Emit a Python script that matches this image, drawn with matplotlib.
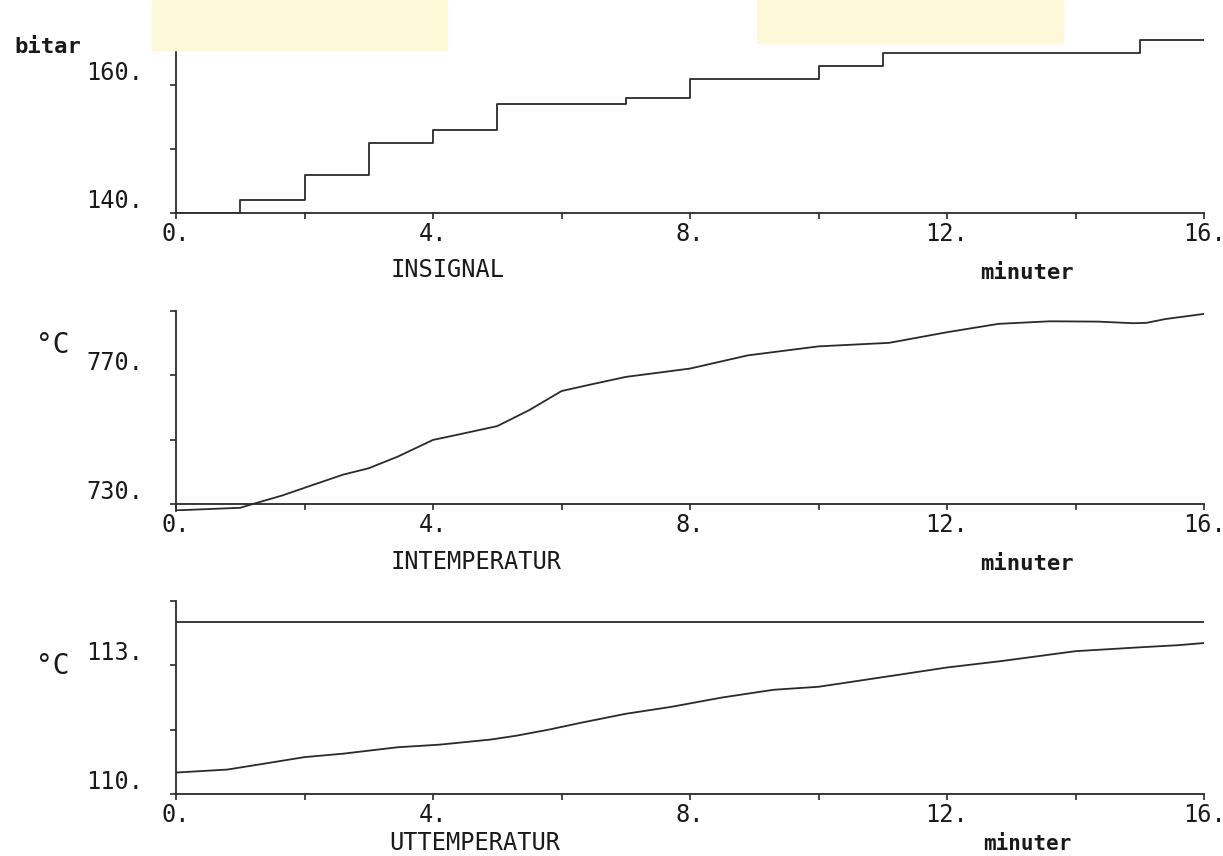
import matplotlib.pyplot as plt
from matplotlib.patches import Rectangle

plt.rcParams["font.family"] = ["DejaVu Sans Mono", "DejaVu Sans"]

# --- data ---
x_ticks = [0, 2, 4, 6, 8, 10, 12, 14, 16]
x_labels = ["0.", "", "4.", "", "8.", "", "12.", "", "16."]

# INSIGNAL (bitar), step signal
insignal_t = [0, 1, 2, 3, 4, 5, 7, 8, 10, 11, 15, 16]
insignal_v = [140, 142, 146, 151, 153, 157, 158, 161, 163, 165, 167, 167]

# INTEMPERATUR (deg C)
intemp_t = [0, 1.0, 1.2, 1.65, 2.1, 2.6, 3.0, 3.45, 4.0, 4.4, 5.0, 5.5, 6.0,
            6.4, 7.0, 8.0, 8.9, 10.0, 11.1, 12.0, 12.8, 13.6, 14.35, 14.9,
            15.1, 15.4, 16.0]
intemp_v = [728.0, 728.8, 730.0, 732.6, 735.7, 739.1, 741.1, 744.7, 749.9,
            751.6, 754.2, 759.2, 765.1, 766.9, 769.5, 772.1, 776.2, 779.0,
            780.1, 783.4, 786.0, 786.8, 786.7, 786.2, 786.3, 787.5, 789.1]

# UTTEMPERATUR (deg C) and its setpoint line
uttemp_t = [0, 0.8, 1.3, 2.0, 2.6, 3.45, 4.1, 4.9, 5.3, 5.8, 6.3, 7.0, 7.7,
            8.5, 9.3, 10.0, 11.25, 12.0, 12.85, 13.6, 14.0, 15.0, 15.6, 16.0]
uttemp_v = [110.5, 110.57, 110.69, 110.86, 110.94, 111.09, 111.15, 111.27,
            111.36, 111.5, 111.66, 111.87, 112.03, 112.25, 112.43, 112.5,
            112.78, 112.95, 113.1, 113.25, 113.33, 113.42, 113.47, 113.52]
uttemp_ref = 114.0

ink = "#2a2a2a"
W, H = 1223, 856


def px_box(left, top, right, bottom):
    return [left / W, 1 - bottom / H, (right - left) / W, (bottom - top) / H]


def style_axis(ax, ylim, yticks, ylabels, xaxis_at):
    ax.set_xlim(0, 16)
    ax.set_ylim(*ylim)
    ax.spines["top"].set_visible(False)
    ax.spines["right"].set_visible(False)
    ax.spines["bottom"].set_position(("data", xaxis_at))
    for s in ["left", "bottom"]:
        ax.spines[s].set_linewidth(1.3)
        ax.spines[s].set_color(ink)
    ax.set_xticks(x_ticks, x_labels)
    ax.set_yticks(yticks, ylabels)
    ax.tick_params(direction="out", length=4.5, width=1.2, color=ink,
                   labelcolor="#1a1a1a", labelsize=17)
    ax.tick_params(axis="x", pad=2)
    ax.tick_params(axis="y", pad=19)
    plt.setp(ax.get_yticklabels(), va="bottom")
    ax.patch.set_alpha(0)


fig = plt.figure(figsize=(W / 100, H / 100), dpi=100)

# faint yellow highlighter marks on the scan
hl = "#fdf9d8"
fig.patches.append(Rectangle((152 / W, 1 - 50 / H), 295 / W, 50 / H,
                             transform=fig.transFigure, color=hl, zorder=0))
fig.patches.append(Rectangle((757 / W, 1 - 43 / H), 306 / W, 43 / H,
                             transform=fig.transFigure, color=hl, zorder=0))

# INSIGNAL
ax1 = fig.add_axes(px_box(176, 21, 1204, 213))
ax1.step(insignal_t, insignal_v, where="post", color=ink, lw=1.3)
style_axis(ax1, (140, 170), [140, 150, 160, 170], ["140.", "", "160.", ""], 140)

# INTEMPERATUR
ax2 = fig.add_axes(px_box(176, 311, 1204, 511))
ax2.plot(intemp_t, intemp_v, color=ink, lw=1.3)
style_axis(ax2, (727.8, 790), [730, 750, 770, 790], ["730.", "", "770.", ""], 730)

# UTTEMPERATUR
ax3 = fig.add_axes(px_box(176, 601, 1204, 794))
ax3.plot(uttemp_t, uttemp_v, color=ink, lw=1.3)
ax3.axhline(uttemp_ref, color=ink, lw=1.3)
style_axis(ax3, (110, 114.5), [110, 111.5, 113, 114.5], ["110.", "", "113.", ""], 110)


# labels
def ftext(x, y, s, **kw):
    fig.text(x / W, 1 - y / H, s, va="center", color="#1a1a1a", **kw)


ftext(14, 47, "bitar", ha="left", fontsize=16, fontweight="bold")
ftext(36, 345, "°C", ha="left", fontsize=20)
ftext(36, 666, "°C", ha="left", fontsize=20)

ftext(391, 270, "INSIGNAL", ha="left", fontsize=17)
ftext(391, 562, "INTEMPERATUR", ha="left", fontsize=17)
ftext(389, 843, "UTTEMPERATUR", ha="left", fontsize=17)

ftext(1027, 273, "minuter", ha="center", fontsize=16, fontweight="bold")
ftext(1027, 564, "minuter", ha="center", fontsize=16, fontweight="bold")
ftext(1027, 844, "minuter", ha="center", fontsize=15, fontweight="bold")

fig.savefig("out.png", dpi=100)
